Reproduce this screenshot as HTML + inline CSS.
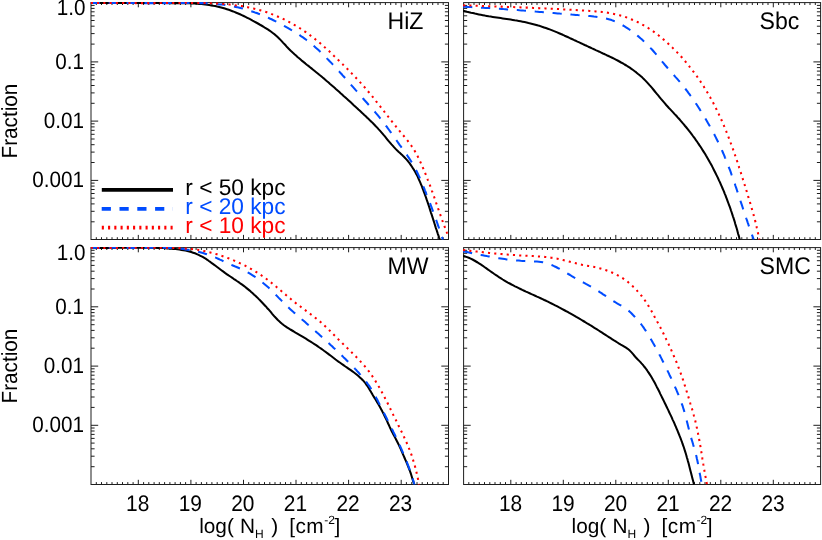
<!DOCTYPE html>
<html><head><meta charset="utf-8"><title>Column density fractions</title>
<style>
html,body{margin:0;padding:0;background:#fff;}
body{width:822px;height:540px;overflow:hidden;font-family:"Liberation Sans",sans-serif;}
svg{display:block;will-change:transform;text-rendering:geometricPrecision;}
</style></head><body>
<svg width="822" height="540" viewBox="0 0 822 540">
<rect width="822" height="540" fill="#fff"/>
<defs>
<clipPath id="cp_hiz"><rect x="90.5" y="2.1" width="358.5" height="237.9"/></clipPath>
<clipPath id="cp_sbc"><rect x="463.1" y="2.1" width="358" height="237.9"/></clipPath>
<clipPath id="cp_mw"><rect x="90.5" y="247.1" width="358.5" height="237.9"/></clipPath>
<clipPath id="cp_smc"><rect x="463.1" y="247.1" width="358" height="237.9"/></clipPath>
</defs>
<path d="M96.3 239.6 v-2.4 M96.3 2.6 v2.4 M101.5 239.6 v-2.4 M101.5 2.6 v2.4 M106.8 239.6 v-2.4 M106.8 2.6 v2.4 M112 239.6 v-2.4 M112 2.6 v2.4 M117.3 239.6 v-2.4 M117.3 2.6 v2.4 M122.5 239.6 v-2.4 M122.5 2.6 v2.4 M127.8 239.6 v-2.4 M127.8 2.6 v2.4 M133.1 239.6 v-2.4 M133.1 2.6 v2.4 M143.6 239.6 v-2.4 M143.6 2.6 v2.4 M148.8 239.6 v-2.4 M148.8 2.6 v2.4 M154.1 239.6 v-2.4 M154.1 2.6 v2.4 M159.3 239.6 v-2.4 M159.3 2.6 v2.4 M164.6 239.6 v-2.4 M164.6 2.6 v2.4 M169.9 239.6 v-2.4 M169.9 2.6 v2.4 M175.1 239.6 v-2.4 M175.1 2.6 v2.4 M180.4 239.6 v-2.4 M180.4 2.6 v2.4 M185.6 239.6 v-2.4 M185.6 2.6 v2.4 M196.1 239.6 v-2.4 M196.1 2.6 v2.4 M201.4 239.6 v-2.4 M201.4 2.6 v2.4 M206.7 239.6 v-2.4 M206.7 2.6 v2.4 M211.9 239.6 v-2.4 M211.9 2.6 v2.4 M217.2 239.6 v-2.4 M217.2 2.6 v2.4 M222.4 239.6 v-2.4 M222.4 2.6 v2.4 M227.7 239.6 v-2.4 M227.7 2.6 v2.4 M232.9 239.6 v-2.4 M232.9 2.6 v2.4 M238.2 239.6 v-2.4 M238.2 2.6 v2.4 M248.7 239.6 v-2.4 M248.7 2.6 v2.4 M254 239.6 v-2.4 M254 2.6 v2.4 M259.2 239.6 v-2.4 M259.2 2.6 v2.4 M264.5 239.6 v-2.4 M264.5 2.6 v2.4 M269.8 239.6 v-2.4 M269.8 2.6 v2.4 M275 239.6 v-2.4 M275 2.6 v2.4 M280.3 239.6 v-2.4 M280.3 2.6 v2.4 M285.5 239.6 v-2.4 M285.5 2.6 v2.4 M290.8 239.6 v-2.4 M290.8 2.6 v2.4 M301.3 239.6 v-2.4 M301.3 2.6 v2.4 M306.6 239.6 v-2.4 M306.6 2.6 v2.4 M311.8 239.6 v-2.4 M311.8 2.6 v2.4 M317.1 239.6 v-2.4 M317.1 2.6 v2.4 M322.3 239.6 v-2.4 M322.3 2.6 v2.4 M327.6 239.6 v-2.4 M327.6 2.6 v2.4 M332.8 239.6 v-2.4 M332.8 2.6 v2.4 M338.1 239.6 v-2.4 M338.1 2.6 v2.4 M343.4 239.6 v-2.4 M343.4 2.6 v2.4 M353.9 239.6 v-2.4 M353.9 2.6 v2.4 M359.1 239.6 v-2.4 M359.1 2.6 v2.4 M364.4 239.6 v-2.4 M364.4 2.6 v2.4 M369.6 239.6 v-2.4 M369.6 2.6 v2.4 M374.9 239.6 v-2.4 M374.9 2.6 v2.4 M380.2 239.6 v-2.4 M380.2 2.6 v2.4 M385.4 239.6 v-2.4 M385.4 2.6 v2.4 M390.7 239.6 v-2.4 M390.7 2.6 v2.4 M395.9 239.6 v-2.4 M395.9 2.6 v2.4 M406.4 239.6 v-2.4 M406.4 2.6 v2.4 M411.7 239.6 v-2.4 M411.7 2.6 v2.4 M417 239.6 v-2.4 M417 2.6 v2.4 M422.2 239.6 v-2.4 M422.2 2.6 v2.4 M427.5 239.6 v-2.4 M427.5 2.6 v2.4 M432.7 239.6 v-2.4 M432.7 2.6 v2.4 M438 239.6 v-2.4 M438 2.6 v2.4 M443.2 239.6 v-2.4 M443.2 2.6 v2.4 M91 44.1 h3.6 M448.5 44.1 h-3.6 M91 33.6 h3.6 M448.5 33.6 h-3.6 M91 26.2 h3.6 M448.5 26.2 h-3.6 M91 20.5 h3.6 M448.5 20.5 h-3.6 M91 15.8 h3.6 M448.5 15.8 h-3.6 M91 11.8 h3.6 M448.5 11.8 h-3.6 M91 8.4 h3.6 M448.5 8.4 h-3.6 M91 5.4 h3.6 M448.5 5.4 h-3.6 M91 103.3 h3.6 M448.5 103.3 h-3.6 M91 92.9 h3.6 M448.5 92.9 h-3.6 M91 85.5 h3.6 M448.5 85.5 h-3.6 M91 79.7 h3.6 M448.5 79.7 h-3.6 M91 75 h3.6 M448.5 75 h-3.6 M91 71.1 h3.6 M448.5 71.1 h-3.6 M91 67.6 h3.6 M448.5 67.6 h-3.6 M91 64.6 h3.6 M448.5 64.6 h-3.6 M91 162.5 h3.6 M448.5 162.5 h-3.6 M91 152.1 h3.6 M448.5 152.1 h-3.6 M91 144.7 h3.6 M448.5 144.7 h-3.6 M91 139 h3.6 M448.5 139 h-3.6 M91 134.3 h3.6 M448.5 134.3 h-3.6 M91 130.3 h3.6 M448.5 130.3 h-3.6 M91 126.9 h3.6 M448.5 126.9 h-3.6 M91 123.8 h3.6 M448.5 123.8 h-3.6 M91 221.8 h3.6 M448.5 221.8 h-3.6 M91 211.3 h3.6 M448.5 211.3 h-3.6 M91 203.9 h3.6 M448.5 203.9 h-3.6 M91 198.2 h3.6 M448.5 198.2 h-3.6 M91 193.5 h3.6 M448.5 193.5 h-3.6 M91 189.5 h3.6 M448.5 189.5 h-3.6 M91 186.1 h3.6 M448.5 186.1 h-3.6 M91 183.1 h3.6 M448.5 183.1 h-3.6" stroke="#1e1e1e" stroke-width="1.0" fill="none"/>
<path d="M138.3 239.6 v-4.7 M138.3 2.6 v4.7 M190.9 239.6 v-4.7 M190.9 2.6 v4.7 M243.5 239.6 v-4.7 M243.5 2.6 v4.7 M296 239.6 v-4.7 M296 2.6 v4.7 M348.6 239.6 v-4.7 M348.6 2.6 v4.7 M401.2 239.6 v-4.7 M401.2 2.6 v4.7 M91 61.9 h7.2 M448.5 61.9 h-7.2 M91 121.1 h7.2 M448.5 121.1 h-7.2 M91 180.4 h7.2 M448.5 180.4 h-7.2" stroke="#1e1e1e" stroke-width="1.0" fill="none"/>
<rect x="91" y="2.6" width="357.5" height="236.9" fill="none" stroke="#1e1e1e" stroke-width="1.0"/>
<path d="M468.8 239.6 v-2.4 M468.8 2.6 v2.4 M474 239.6 v-2.4 M474 2.6 v2.4 M479.3 239.6 v-2.4 M479.3 2.6 v2.4 M484.5 239.6 v-2.4 M484.5 2.6 v2.4 M489.8 239.6 v-2.4 M489.8 2.6 v2.4 M495 239.6 v-2.4 M495 2.6 v2.4 M500.3 239.6 v-2.4 M500.3 2.6 v2.4 M505.5 239.6 v-2.4 M505.5 2.6 v2.4 M516.1 239.6 v-2.4 M516.1 2.6 v2.4 M521.3 239.6 v-2.4 M521.3 2.6 v2.4 M526.5 239.6 v-2.4 M526.5 2.6 v2.4 M531.8 239.6 v-2.4 M531.8 2.6 v2.4 M537 239.6 v-2.4 M537 2.6 v2.4 M542.3 239.6 v-2.4 M542.3 2.6 v2.4 M547.5 239.6 v-2.4 M547.5 2.6 v2.4 M552.8 239.6 v-2.4 M552.8 2.6 v2.4 M558 239.6 v-2.4 M558 2.6 v2.4 M568.6 239.6 v-2.4 M568.6 2.6 v2.4 M573.8 239.6 v-2.4 M573.8 2.6 v2.4 M579 239.6 v-2.4 M579 2.6 v2.4 M584.3 239.6 v-2.4 M584.3 2.6 v2.4 M589.5 239.6 v-2.4 M589.5 2.6 v2.4 M594.8 239.6 v-2.4 M594.8 2.6 v2.4 M600 239.6 v-2.4 M600 2.6 v2.4 M605.3 239.6 v-2.4 M605.3 2.6 v2.4 M610.5 239.6 v-2.4 M610.5 2.6 v2.4 M621.1 239.6 v-2.4 M621.1 2.6 v2.4 M626.3 239.6 v-2.4 M626.3 2.6 v2.4 M631.5 239.6 v-2.4 M631.5 2.6 v2.4 M636.8 239.6 v-2.4 M636.8 2.6 v2.4 M642 239.6 v-2.4 M642 2.6 v2.4 M647.3 239.6 v-2.4 M647.3 2.6 v2.4 M652.5 239.6 v-2.4 M652.5 2.6 v2.4 M657.8 239.6 v-2.4 M657.8 2.6 v2.4 M663 239.6 v-2.4 M663 2.6 v2.4 M673.6 239.6 v-2.4 M673.6 2.6 v2.4 M678.8 239.6 v-2.4 M678.8 2.6 v2.4 M684 239.6 v-2.4 M684 2.6 v2.4 M689.3 239.6 v-2.4 M689.3 2.6 v2.4 M694.5 239.6 v-2.4 M694.5 2.6 v2.4 M699.8 239.6 v-2.4 M699.8 2.6 v2.4 M705 239.6 v-2.4 M705 2.6 v2.4 M710.3 239.6 v-2.4 M710.3 2.6 v2.4 M715.5 239.6 v-2.4 M715.5 2.6 v2.4 M726.1 239.6 v-2.4 M726.1 2.6 v2.4 M731.3 239.6 v-2.4 M731.3 2.6 v2.4 M736.5 239.6 v-2.4 M736.5 2.6 v2.4 M741.8 239.6 v-2.4 M741.8 2.6 v2.4 M747 239.6 v-2.4 M747 2.6 v2.4 M752.3 239.6 v-2.4 M752.3 2.6 v2.4 M757.5 239.6 v-2.4 M757.5 2.6 v2.4 M762.8 239.6 v-2.4 M762.8 2.6 v2.4 M768 239.6 v-2.4 M768 2.6 v2.4 M778.6 239.6 v-2.4 M778.6 2.6 v2.4 M783.8 239.6 v-2.4 M783.8 2.6 v2.4 M789.1 239.6 v-2.4 M789.1 2.6 v2.4 M794.3 239.6 v-2.4 M794.3 2.6 v2.4 M799.5 239.6 v-2.4 M799.5 2.6 v2.4 M804.8 239.6 v-2.4 M804.8 2.6 v2.4 M810 239.6 v-2.4 M810 2.6 v2.4 M815.3 239.6 v-2.4 M815.3 2.6 v2.4 M463.6 44.1 h3.6 M820.5 44.1 h-3.6 M463.6 33.6 h3.6 M820.5 33.6 h-3.6 M463.6 26.2 h3.6 M820.5 26.2 h-3.6 M463.6 20.5 h3.6 M820.5 20.5 h-3.6 M463.6 15.8 h3.6 M820.5 15.8 h-3.6 M463.6 11.8 h3.6 M820.5 11.8 h-3.6 M463.6 8.4 h3.6 M820.5 8.4 h-3.6 M463.6 5.4 h3.6 M820.5 5.4 h-3.6 M463.6 103.3 h3.6 M820.5 103.3 h-3.6 M463.6 92.9 h3.6 M820.5 92.9 h-3.6 M463.6 85.5 h3.6 M820.5 85.5 h-3.6 M463.6 79.7 h3.6 M820.5 79.7 h-3.6 M463.6 75 h3.6 M820.5 75 h-3.6 M463.6 71.1 h3.6 M820.5 71.1 h-3.6 M463.6 67.6 h3.6 M820.5 67.6 h-3.6 M463.6 64.6 h3.6 M820.5 64.6 h-3.6 M463.6 162.5 h3.6 M820.5 162.5 h-3.6 M463.6 152.1 h3.6 M820.5 152.1 h-3.6 M463.6 144.7 h3.6 M820.5 144.7 h-3.6 M463.6 139 h3.6 M820.5 139 h-3.6 M463.6 134.3 h3.6 M820.5 134.3 h-3.6 M463.6 130.3 h3.6 M820.5 130.3 h-3.6 M463.6 126.9 h3.6 M820.5 126.9 h-3.6 M463.6 123.8 h3.6 M820.5 123.8 h-3.6 M463.6 221.8 h3.6 M820.5 221.8 h-3.6 M463.6 211.3 h3.6 M820.5 211.3 h-3.6 M463.6 203.9 h3.6 M820.5 203.9 h-3.6 M463.6 198.2 h3.6 M820.5 198.2 h-3.6 M463.6 193.5 h3.6 M820.5 193.5 h-3.6 M463.6 189.5 h3.6 M820.5 189.5 h-3.6 M463.6 186.1 h3.6 M820.5 186.1 h-3.6 M463.6 183.1 h3.6 M820.5 183.1 h-3.6" stroke="#1e1e1e" stroke-width="1.0" fill="none"/>
<path d="M510.8 239.6 v-4.7 M510.8 2.6 v4.7 M563.3 239.6 v-4.7 M563.3 2.6 v4.7 M615.8 239.6 v-4.7 M615.8 2.6 v4.7 M668.3 239.6 v-4.7 M668.3 2.6 v4.7 M720.8 239.6 v-4.7 M720.8 2.6 v4.7 M773.3 239.6 v-4.7 M773.3 2.6 v4.7 M463.6 61.9 h7.1 M820.5 61.9 h-7.1 M463.6 121.1 h7.1 M820.5 121.1 h-7.1 M463.6 180.4 h7.1 M820.5 180.4 h-7.1" stroke="#1e1e1e" stroke-width="1.0" fill="none"/>
<rect x="463.6" y="2.6" width="357" height="236.9" fill="none" stroke="#1e1e1e" stroke-width="1.0"/>
<path d="M96.3 484.5 v-2.4 M96.3 247.6 v2.4 M101.5 484.5 v-2.4 M101.5 247.6 v2.4 M106.8 484.5 v-2.4 M106.8 247.6 v2.4 M112 484.5 v-2.4 M112 247.6 v2.4 M117.3 484.5 v-2.4 M117.3 247.6 v2.4 M122.5 484.5 v-2.4 M122.5 247.6 v2.4 M127.8 484.5 v-2.4 M127.8 247.6 v2.4 M133.1 484.5 v-2.4 M133.1 247.6 v2.4 M143.6 484.5 v-2.4 M143.6 247.6 v2.4 M148.8 484.5 v-2.4 M148.8 247.6 v2.4 M154.1 484.5 v-2.4 M154.1 247.6 v2.4 M159.3 484.5 v-2.4 M159.3 247.6 v2.4 M164.6 484.5 v-2.4 M164.6 247.6 v2.4 M169.9 484.5 v-2.4 M169.9 247.6 v2.4 M175.1 484.5 v-2.4 M175.1 247.6 v2.4 M180.4 484.5 v-2.4 M180.4 247.6 v2.4 M185.6 484.5 v-2.4 M185.6 247.6 v2.4 M196.1 484.5 v-2.4 M196.1 247.6 v2.4 M201.4 484.5 v-2.4 M201.4 247.6 v2.4 M206.7 484.5 v-2.4 M206.7 247.6 v2.4 M211.9 484.5 v-2.4 M211.9 247.6 v2.4 M217.2 484.5 v-2.4 M217.2 247.6 v2.4 M222.4 484.5 v-2.4 M222.4 247.6 v2.4 M227.7 484.5 v-2.4 M227.7 247.6 v2.4 M232.9 484.5 v-2.4 M232.9 247.6 v2.4 M238.2 484.5 v-2.4 M238.2 247.6 v2.4 M248.7 484.5 v-2.4 M248.7 247.6 v2.4 M254 484.5 v-2.4 M254 247.6 v2.4 M259.2 484.5 v-2.4 M259.2 247.6 v2.4 M264.5 484.5 v-2.4 M264.5 247.6 v2.4 M269.8 484.5 v-2.4 M269.8 247.6 v2.4 M275 484.5 v-2.4 M275 247.6 v2.4 M280.3 484.5 v-2.4 M280.3 247.6 v2.4 M285.5 484.5 v-2.4 M285.5 247.6 v2.4 M290.8 484.5 v-2.4 M290.8 247.6 v2.4 M301.3 484.5 v-2.4 M301.3 247.6 v2.4 M306.6 484.5 v-2.4 M306.6 247.6 v2.4 M311.8 484.5 v-2.4 M311.8 247.6 v2.4 M317.1 484.5 v-2.4 M317.1 247.6 v2.4 M322.3 484.5 v-2.4 M322.3 247.6 v2.4 M327.6 484.5 v-2.4 M327.6 247.6 v2.4 M332.8 484.5 v-2.4 M332.8 247.6 v2.4 M338.1 484.5 v-2.4 M338.1 247.6 v2.4 M343.4 484.5 v-2.4 M343.4 247.6 v2.4 M353.9 484.5 v-2.4 M353.9 247.6 v2.4 M359.1 484.5 v-2.4 M359.1 247.6 v2.4 M364.4 484.5 v-2.4 M364.4 247.6 v2.4 M369.6 484.5 v-2.4 M369.6 247.6 v2.4 M374.9 484.5 v-2.4 M374.9 247.6 v2.4 M380.2 484.5 v-2.4 M380.2 247.6 v2.4 M385.4 484.5 v-2.4 M385.4 247.6 v2.4 M390.7 484.5 v-2.4 M390.7 247.6 v2.4 M395.9 484.5 v-2.4 M395.9 247.6 v2.4 M406.4 484.5 v-2.4 M406.4 247.6 v2.4 M411.7 484.5 v-2.4 M411.7 247.6 v2.4 M417 484.5 v-2.4 M417 247.6 v2.4 M422.2 484.5 v-2.4 M422.2 247.6 v2.4 M427.5 484.5 v-2.4 M427.5 247.6 v2.4 M432.7 484.5 v-2.4 M432.7 247.6 v2.4 M438 484.5 v-2.4 M438 247.6 v2.4 M443.2 484.5 v-2.4 M443.2 247.6 v2.4 M91 289 h3.6 M448.5 289 h-3.6 M91 278.6 h3.6 M448.5 278.6 h-3.6 M91 271.2 h3.6 M448.5 271.2 h-3.6 M91 265.4 h3.6 M448.5 265.4 h-3.6 M91 260.7 h3.6 M448.5 260.7 h-3.6 M91 256.8 h3.6 M448.5 256.8 h-3.6 M91 253.3 h3.6 M448.5 253.3 h-3.6 M91 250.3 h3.6 M448.5 250.3 h-3.6 M91 348.2 h3.6 M448.5 348.2 h-3.6 M91 337.8 h3.6 M448.5 337.8 h-3.6 M91 330.4 h3.6 M448.5 330.4 h-3.6 M91 324.7 h3.6 M448.5 324.7 h-3.6 M91 320 h3.6 M448.5 320 h-3.6 M91 316 h3.6 M448.5 316 h-3.6 M91 312.6 h3.6 M448.5 312.6 h-3.6 M91 309.5 h3.6 M448.5 309.5 h-3.6 M91 407.4 h3.6 M448.5 407.4 h-3.6 M91 397 h3.6 M448.5 397 h-3.6 M91 389.6 h3.6 M448.5 389.6 h-3.6 M91 383.9 h3.6 M448.5 383.9 h-3.6 M91 379.2 h3.6 M448.5 379.2 h-3.6 M91 375.2 h3.6 M448.5 375.2 h-3.6 M91 371.8 h3.6 M448.5 371.8 h-3.6 M91 368.8 h3.6 M448.5 368.8 h-3.6 M91 466.7 h3.6 M448.5 466.7 h-3.6 M91 456.2 h3.6 M448.5 456.2 h-3.6 M91 448.8 h3.6 M448.5 448.8 h-3.6 M91 443.1 h3.6 M448.5 443.1 h-3.6 M91 438.4 h3.6 M448.5 438.4 h-3.6 M91 434.4 h3.6 M448.5 434.4 h-3.6 M91 431 h3.6 M448.5 431 h-3.6 M91 428 h3.6 M448.5 428 h-3.6" stroke="#1e1e1e" stroke-width="1.0" fill="none"/>
<path d="M138.3 484.5 v-4.7 M138.3 247.6 v4.7 M190.9 484.5 v-4.7 M190.9 247.6 v4.7 M243.5 484.5 v-4.7 M243.5 247.6 v4.7 M296 484.5 v-4.7 M296 247.6 v4.7 M348.6 484.5 v-4.7 M348.6 247.6 v4.7 M401.2 484.5 v-4.7 M401.2 247.6 v4.7 M91 306.8 h7.2 M448.5 306.8 h-7.2 M91 366.1 h7.2 M448.5 366.1 h-7.2 M91 425.3 h7.2 M448.5 425.3 h-7.2" stroke="#1e1e1e" stroke-width="1.0" fill="none"/>
<rect x="91" y="247.6" width="357.5" height="236.9" fill="none" stroke="#1e1e1e" stroke-width="1.0"/>
<path d="M468.8 484.5 v-2.4 M468.8 247.6 v2.4 M474 484.5 v-2.4 M474 247.6 v2.4 M479.3 484.5 v-2.4 M479.3 247.6 v2.4 M484.5 484.5 v-2.4 M484.5 247.6 v2.4 M489.8 484.5 v-2.4 M489.8 247.6 v2.4 M495 484.5 v-2.4 M495 247.6 v2.4 M500.3 484.5 v-2.4 M500.3 247.6 v2.4 M505.5 484.5 v-2.4 M505.5 247.6 v2.4 M516.1 484.5 v-2.4 M516.1 247.6 v2.4 M521.3 484.5 v-2.4 M521.3 247.6 v2.4 M526.5 484.5 v-2.4 M526.5 247.6 v2.4 M531.8 484.5 v-2.4 M531.8 247.6 v2.4 M537 484.5 v-2.4 M537 247.6 v2.4 M542.3 484.5 v-2.4 M542.3 247.6 v2.4 M547.5 484.5 v-2.4 M547.5 247.6 v2.4 M552.8 484.5 v-2.4 M552.8 247.6 v2.4 M558 484.5 v-2.4 M558 247.6 v2.4 M568.6 484.5 v-2.4 M568.6 247.6 v2.4 M573.8 484.5 v-2.4 M573.8 247.6 v2.4 M579 484.5 v-2.4 M579 247.6 v2.4 M584.3 484.5 v-2.4 M584.3 247.6 v2.4 M589.5 484.5 v-2.4 M589.5 247.6 v2.4 M594.8 484.5 v-2.4 M594.8 247.6 v2.4 M600 484.5 v-2.4 M600 247.6 v2.4 M605.3 484.5 v-2.4 M605.3 247.6 v2.4 M610.5 484.5 v-2.4 M610.5 247.6 v2.4 M621.1 484.5 v-2.4 M621.1 247.6 v2.4 M626.3 484.5 v-2.4 M626.3 247.6 v2.4 M631.5 484.5 v-2.4 M631.5 247.6 v2.4 M636.8 484.5 v-2.4 M636.8 247.6 v2.4 M642 484.5 v-2.4 M642 247.6 v2.4 M647.3 484.5 v-2.4 M647.3 247.6 v2.4 M652.5 484.5 v-2.4 M652.5 247.6 v2.4 M657.8 484.5 v-2.4 M657.8 247.6 v2.4 M663 484.5 v-2.4 M663 247.6 v2.4 M673.6 484.5 v-2.4 M673.6 247.6 v2.4 M678.8 484.5 v-2.4 M678.8 247.6 v2.4 M684 484.5 v-2.4 M684 247.6 v2.4 M689.3 484.5 v-2.4 M689.3 247.6 v2.4 M694.5 484.5 v-2.4 M694.5 247.6 v2.4 M699.8 484.5 v-2.4 M699.8 247.6 v2.4 M705 484.5 v-2.4 M705 247.6 v2.4 M710.3 484.5 v-2.4 M710.3 247.6 v2.4 M715.5 484.5 v-2.4 M715.5 247.6 v2.4 M726.1 484.5 v-2.4 M726.1 247.6 v2.4 M731.3 484.5 v-2.4 M731.3 247.6 v2.4 M736.5 484.5 v-2.4 M736.5 247.6 v2.4 M741.8 484.5 v-2.4 M741.8 247.6 v2.4 M747 484.5 v-2.4 M747 247.6 v2.4 M752.3 484.5 v-2.4 M752.3 247.6 v2.4 M757.5 484.5 v-2.4 M757.5 247.6 v2.4 M762.8 484.5 v-2.4 M762.8 247.6 v2.4 M768 484.5 v-2.4 M768 247.6 v2.4 M778.6 484.5 v-2.4 M778.6 247.6 v2.4 M783.8 484.5 v-2.4 M783.8 247.6 v2.4 M789.1 484.5 v-2.4 M789.1 247.6 v2.4 M794.3 484.5 v-2.4 M794.3 247.6 v2.4 M799.5 484.5 v-2.4 M799.5 247.6 v2.4 M804.8 484.5 v-2.4 M804.8 247.6 v2.4 M810 484.5 v-2.4 M810 247.6 v2.4 M815.3 484.5 v-2.4 M815.3 247.6 v2.4 M463.6 289 h3.6 M820.5 289 h-3.6 M463.6 278.6 h3.6 M820.5 278.6 h-3.6 M463.6 271.2 h3.6 M820.5 271.2 h-3.6 M463.6 265.4 h3.6 M820.5 265.4 h-3.6 M463.6 260.7 h3.6 M820.5 260.7 h-3.6 M463.6 256.8 h3.6 M820.5 256.8 h-3.6 M463.6 253.3 h3.6 M820.5 253.3 h-3.6 M463.6 250.3 h3.6 M820.5 250.3 h-3.6 M463.6 348.2 h3.6 M820.5 348.2 h-3.6 M463.6 337.8 h3.6 M820.5 337.8 h-3.6 M463.6 330.4 h3.6 M820.5 330.4 h-3.6 M463.6 324.7 h3.6 M820.5 324.7 h-3.6 M463.6 320 h3.6 M820.5 320 h-3.6 M463.6 316 h3.6 M820.5 316 h-3.6 M463.6 312.6 h3.6 M820.5 312.6 h-3.6 M463.6 309.5 h3.6 M820.5 309.5 h-3.6 M463.6 407.4 h3.6 M820.5 407.4 h-3.6 M463.6 397 h3.6 M820.5 397 h-3.6 M463.6 389.6 h3.6 M820.5 389.6 h-3.6 M463.6 383.9 h3.6 M820.5 383.9 h-3.6 M463.6 379.2 h3.6 M820.5 379.2 h-3.6 M463.6 375.2 h3.6 M820.5 375.2 h-3.6 M463.6 371.8 h3.6 M820.5 371.8 h-3.6 M463.6 368.8 h3.6 M820.5 368.8 h-3.6 M463.6 466.7 h3.6 M820.5 466.7 h-3.6 M463.6 456.2 h3.6 M820.5 456.2 h-3.6 M463.6 448.8 h3.6 M820.5 448.8 h-3.6 M463.6 443.1 h3.6 M820.5 443.1 h-3.6 M463.6 438.4 h3.6 M820.5 438.4 h-3.6 M463.6 434.4 h3.6 M820.5 434.4 h-3.6 M463.6 431 h3.6 M820.5 431 h-3.6 M463.6 428 h3.6 M820.5 428 h-3.6" stroke="#1e1e1e" stroke-width="1.0" fill="none"/>
<path d="M510.8 484.5 v-4.7 M510.8 247.6 v4.7 M563.3 484.5 v-4.7 M563.3 247.6 v4.7 M615.8 484.5 v-4.7 M615.8 247.6 v4.7 M668.3 484.5 v-4.7 M668.3 247.6 v4.7 M720.8 484.5 v-4.7 M720.8 247.6 v4.7 M773.3 484.5 v-4.7 M773.3 247.6 v4.7 M463.6 306.8 h7.1 M820.5 306.8 h-7.1 M463.6 366.1 h7.1 M820.5 366.1 h-7.1 M463.6 425.3 h7.1 M820.5 425.3 h-7.1" stroke="#1e1e1e" stroke-width="1.0" fill="none"/>
<rect x="463.6" y="247.6" width="357" height="236.9" fill="none" stroke="#1e1e1e" stroke-width="1.0"/>
<g clip-path="url(#cp_hiz)" fill="none" stroke-linejoin="round">
<path d="M90.8 3 L92.8 3 L94.8 3 L96.8 3 L98.9 3 L100.9 3 L102.9 3 L104.9 3 L106.9 3 L108.9 3 L110.9 3 L112.9 3 L115 3 L117 3 L119 3 L121 3 L123 3 L125 3 L127 3 L129 3 L131 3 L133 3 L135 3 L137 3 L139 3 L141 3 L143 3 L145 3 L147.1 3 L149.1 3 L151.1 3 L153.1 3 L155.1 3 L157.1 3 L159.1 3 L161.1 3 L163.1 3 L165.1 3 L167.2 3 L169.2 3 L171.2 3.1 L173.2 3.1 L175.2 3.1 L177.2 3.1 L179.3 3.1 L181.3 3.1 L183.3 3.2 L185.3 3.2 L187.3 3.3 L189.3 3.3 L191.4 3.4 L193.4 3.5 L195.4 3.6 L197.4 3.8 L199.4 3.9 L201.4 4.1 L203.4 4.3 L205.4 4.6 L207.3 4.8 L209.3 5.1 L211.3 5.4 L213.3 5.8 L215.2 6.1 L217.2 6.6 L219.1 7 L221.1 7.5 L223 8 L224.9 8.6 L226.9 9.2 L228.8 9.8 L230.7 10.5 L232.5 11.2 L234.4 11.9 L236.3 12.7 L238.2 13.5 L240 14.3 L241.8 15.1 L243.7 16 L245.5 16.9 L247.3 17.8 L249.1 18.7 L250.9 19.6 L252.6 20.6 L254.4 21.6 L256.1 22.5 L257.9 23.5 L259.6 24.5 L261.4 25.5 L263.1 26.5 L264.8 27.6 L266.5 28.6 L268.2 29.7 L269.9 30.8 L271.5 32 L273.1 33.2 L274.7 34.4 L276.2 35.8 L277.6 37.1 L279.1 38.5 L280.5 39.9 L281.9 41.4 L283.2 42.9 L284.6 44.3 L286 45.8 L287.3 47.3 L288.7 48.7 L290.2 50.2 L291.6 51.6 L293.1 52.9 L294.5 54.3 L296 55.6 L297.5 57 L299.1 58.3 L300.6 59.6 L302.1 60.9 L303.7 62.1 L305.3 63.4 L306.8 64.7 L308.4 65.9 L310 67.2 L311.5 68.4 L313.1 69.7 L314.7 71 L316.2 72.2 L317.8 73.5 L319.3 74.8 L320.9 76 L322.4 77.3 L324 78.6 L325.5 79.9 L327 81.2 L328.6 82.5 L330.1 83.9 L331.6 85.2 L333.1 86.5 L334.6 87.8 L336.1 89.2 L337.6 90.5 L339.1 91.8 L340.6 93.2 L342.1 94.5 L343.6 95.9 L345.1 97.2 L346.6 98.6 L348.1 99.9 L349.6 101.3 L351 102.6 L352.5 104 L354 105.4 L355.5 106.7 L356.9 108.1 L358.4 109.5 L359.9 110.8 L361.4 112.2 L362.8 113.6 L364.3 115 L365.8 116.3 L367.2 117.7 L368.7 119.1 L370.1 120.5 L371.6 121.9 L373 123.3 L374.4 124.7 L375.8 126.2 L377.2 127.6 L378.5 129.1 L379.9 130.6 L381.2 132.1 L382.5 133.6 L383.8 135.2 L385.1 136.7 L386.4 138.3 L387.6 139.8 L388.9 141.4 L390.2 142.9 L391.5 144.4 L392.9 145.9 L394.2 147.4 L395.6 148.9 L397 150.3 L398.5 151.7 L400 153 L401.5 154.4 L402.9 155.8 L404.4 157.2 L405.7 158.6 L407.1 160.1 L408.3 161.7 L409.5 163.2 L410.7 164.9 L411.8 166.5 L412.9 168.2 L414 169.9 L415 171.6 L415.9 173.4 L416.9 175.1 L417.8 176.9 L418.6 178.8 L419.4 180.6 L420.2 182.4 L421 184.3 L421.8 186.2 L422.5 188.1 L423.2 189.9 L423.9 191.8 L424.6 193.7 L425.3 195.6 L426 197.5 L426.6 199.4 L427.3 201.3 L427.9 203.2 L428.6 205.1 L429.2 207 L429.8 208.9 L430.4 210.9 L431 212.8 L431.7 214.7 L432.3 216.6 L432.9 218.5 L433.5 220.4 L434.1 222.3 L434.7 224.2 L435.3 226.1 L435.9 228.1 L436.6 230 L437.2 231.9 L437.8 233.8 L438.5 235.7 L439.1 237.6 L439.8 239.5" stroke="#000" stroke-width="2.05"/>
<path d="M90.7 3.1 L92.8 3 L94.8 3 L96.9 3 L98.9 3 L100.9 2.9 L102.9 2.9 L105 2.9 L107 2.9 L109 2.9 L111 2.9 L113 2.9 L115 2.9 L117 2.9 L119 2.9 L121.1 2.9 L123.1 2.9 L125.1 3 L127.1 3 L129.1 3 L131.1 3 L133.1 3 L135.1 3 L137.1 3 L139.1 3.1 L141.1 3.1 L143.1 3.1 L145.1 3.1 L147.1 3.1 L149.1 3.1 L151.1 3.1 L153.1 3.1 L155.1 3.1 L157.1 3.1 L159.2 3.1 L161.2 3.1 L163.2 3.1 L165.2 3.1 L167.2 3.1 L169.2 3.1 L171.3 3 L173.3 3 L175.3 3 L177.3 3 L179.4 3 L181.4 2.9 L183.4 2.9 L185.4 2.9 L187.5 2.9 L189.5 2.9 L191.5 2.9 L193.6 3 L195.6 3 L197.6 3 L199.6 3.1 L201.6 3.1 L203.7 3.2 L205.7 3.3 L207.7 3.4 L209.7 3.5 L211.7 3.6 L213.7 3.8 L215.7 4 L217.7 4.2 L219.7 4.4 L221.7 4.6 L223.7 4.8 L225.7 5.1 L227.7 5.4 L229.6 5.7 L231.6 6.1 L233.6 6.5 L235.5 6.9 L237.5 7.3 L239.4 7.7 L241.4 8.2 L243.3 8.7 L245.2 9.3 L247.2 9.8 L249.1 10.4 L251 11.1 L252.9 11.7 L254.8 12.4 L256.7 13 L258.6 13.8 L260.4 14.5 L262.3 15.2 L264.2 16 L266 16.8 L267.9 17.6 L269.7 18.5 L271.5 19.3 L273.4 20.2 L275.2 21.1 L277 22 L278.8 22.9 L280.6 23.9 L282.4 24.8 L284.1 25.8 L285.9 26.8 L287.7 27.8 L289.4 28.8 L291.1 29.8 L292.9 30.8 L294.6 31.9 L296.3 33 L298 34 L299.7 35.2 L301.3 36.3 L303 37.4 L304.6 38.6 L306.2 39.8 L307.8 41 L309.4 42.2 L310.9 43.5 L312.5 44.8 L314 46.1 L315.5 47.4 L317 48.7 L318.5 50.1 L320 51.5 L321.4 52.9 L322.8 54.3 L324.3 55.7 L325.7 57.1 L327.1 58.6 L328.5 60 L329.9 61.5 L331.3 62.9 L332.7 64.4 L334 65.9 L335.4 67.4 L336.8 68.8 L338.1 70.3 L339.5 71.8 L340.8 73.3 L342.2 74.8 L343.5 76.3 L344.9 77.8 L346.2 79.3 L347.6 80.8 L348.9 82.3 L350.2 83.8 L351.5 85.3 L352.9 86.9 L354.2 88.4 L355.5 89.9 L356.9 91.4 L358.2 92.9 L359.5 94.4 L360.8 95.9 L362.2 97.5 L363.5 99 L364.8 100.5 L366.2 102 L367.5 103.5 L368.8 105 L370.2 106.5 L371.5 108 L372.8 109.5 L374.2 111.1 L375.5 112.6 L376.8 114.1 L378.1 115.7 L379.3 117.2 L380.6 118.8 L381.9 120.3 L383.1 121.9 L384.3 123.5 L385.5 125.1 L386.7 126.7 L387.9 128.4 L389.1 130 L390.3 131.6 L391.4 133.3 L392.6 134.9 L393.8 136.6 L394.9 138.2 L396.1 139.8 L397.3 141.5 L398.4 143.1 L399.6 144.8 L400.8 146.4 L402 148 L403.2 149.7 L404.3 151.3 L405.5 153 L406.7 154.6 L407.8 156.3 L408.9 157.9 L410 159.6 L411.1 161.3 L412.1 163 L413.1 164.8 L414.1 166.5 L415.1 168.3 L416 170 L416.9 171.8 L417.8 173.7 L418.6 175.5 L419.5 177.3 L420.3 179.1 L421.1 181 L421.9 182.8 L422.6 184.7 L423.4 186.6 L424.2 188.4 L424.9 190.3 L425.7 192.2 L426.4 194.1 L427.2 195.9 L427.9 197.8 L428.6 199.7 L429.3 201.6 L430.1 203.4 L430.8 205.3 L431.5 207.2 L432.2 209.1 L432.9 211 L433.6 212.9 L434.3 214.8 L434.9 216.7 L435.6 218.6 L436.3 220.4 L437 222.3 L437.6 224.2 L438.3 226.1 L439 228 L439.6 229.9 L440.3 231.9 L440.9 233.8 L441.6 235.7 L442.2 237.6 L442.9 239.5" stroke="#004cff" stroke-width="2.05" stroke-dasharray="9.2 8.74"/>
<path d="M90.8 3 L92.8 3 L94.8 3 L96.8 3 L98.8 3 L100.9 2.9 L102.9 2.9 L104.9 2.9 L106.9 2.9 L108.9 2.9 L110.9 2.9 L112.9 2.9 L114.9 2.9 L116.9 3 L119 3 L121 3 L123 3 L125 3 L127 3 L129 3 L131 3 L133.1 3 L135.1 3.1 L137.1 3.1 L139.1 3.1 L141.1 3.1 L143.1 3.1 L145.1 3.1 L147.1 3.1 L149.2 3.1 L151.2 3.1 L153.2 3.1 L155.2 3.1 L157.2 3.1 L159.2 3.1 L161.2 3 L163.2 3 L165.2 3 L167.3 3 L169.3 3 L171.3 2.9 L173.3 2.9 L175.3 2.9 L177.3 2.9 L179.3 2.9 L181.3 2.9 L183.3 2.9 L185.3 2.8 L187.4 2.8 L189.4 2.8 L191.4 2.9 L193.4 2.9 L195.4 2.9 L197.4 2.9 L199.4 2.9 L201.4 3 L203.4 3 L205.5 3.1 L207.5 3.1 L209.5 3.2 L211.5 3.3 L213.5 3.4 L215.5 3.5 L217.5 3.6 L219.5 3.7 L221.6 3.9 L223.6 4 L225.6 4.2 L227.6 4.4 L229.6 4.6 L231.6 4.8 L233.6 5 L235.6 5.3 L237.6 5.5 L239.6 5.8 L241.6 6.1 L243.5 6.4 L245.5 6.8 L247.5 7.2 L249.5 7.6 L251.4 8 L253.4 8.4 L255.3 8.9 L257.3 9.4 L259.2 9.9 L261.1 10.5 L263.1 11.1 L265 11.7 L266.9 12.3 L268.8 13 L270.7 13.6 L272.5 14.4 L274.4 15.1 L276.3 15.9 L278.1 16.7 L280 17.5 L281.8 18.3 L283.6 19.2 L285.4 20.1 L287.2 21 L289 21.9 L290.8 22.9 L292.5 23.9 L294.3 24.9 L296 25.9 L297.8 26.9 L299.5 28 L301.2 29.1 L302.9 30.2 L304.6 31.3 L306.2 32.4 L307.9 33.6 L309.5 34.8 L311.1 36 L312.7 37.2 L314.3 38.4 L315.9 39.7 L317.4 40.9 L319 42.2 L320.5 43.5 L322 44.8 L323.5 46.1 L325 47.5 L326.5 48.8 L328 50.2 L329.5 51.5 L330.9 52.9 L332.4 54.3 L333.8 55.7 L335.3 57.1 L336.7 58.5 L338.2 59.9 L339.6 61.3 L341 62.7 L342.5 64.1 L343.9 65.6 L345.3 67 L346.8 68.4 L348.2 69.8 L349.6 71.3 L351 72.7 L352.4 74.1 L353.8 75.6 L355.2 77 L356.6 78.5 L358 80 L359.4 81.4 L360.7 82.9 L362.1 84.4 L363.4 85.9 L364.7 87.4 L366 89 L367.3 90.5 L368.6 92 L369.9 93.6 L371.2 95.1 L372.5 96.7 L373.7 98.2 L375 99.8 L376.2 101.4 L377.5 103 L378.7 104.5 L380 106.1 L381.2 107.7 L382.4 109.3 L383.7 110.9 L384.9 112.5 L386.1 114.1 L387.4 115.6 L388.6 117.2 L389.9 118.8 L391.1 120.4 L392.3 122 L393.6 123.6 L394.9 125.1 L396.1 126.7 L397.4 128.3 L398.7 129.8 L399.9 131.4 L401.2 132.9 L402.5 134.5 L403.8 136 L405.1 137.6 L406.4 139.1 L407.6 140.7 L408.8 142.3 L410 143.9 L411.2 145.5 L412.4 147.2 L413.5 148.8 L414.5 150.5 L415.5 152.3 L416.5 154 L417.4 155.8 L418.3 157.6 L419.2 159.4 L420 161.2 L420.9 163.1 L421.7 164.9 L422.5 166.8 L423.3 168.6 L424.1 170.5 L424.8 172.3 L425.6 174.2 L426.4 176.1 L427.1 177.9 L427.8 179.8 L428.6 181.7 L429.3 183.6 L430 185.4 L430.7 187.3 L431.4 189.2 L432 191.1 L432.7 193 L433.4 194.9 L434.1 196.8 L434.7 198.7 L435.4 200.6 L436 202.5 L436.7 204.4 L437.3 206.3 L438 208.2 L438.7 210.1 L439.3 212 L440 213.9 L440.7 215.8 L441.3 217.7 L442 219.6 L442.7 221.5 L443.4 223.4 L444.1 225.3 L444.8 227.1 L445.5 229 L446.3 230.9 L447 232.8 L447.8 234.6 L448.6 236.5" stroke="#ff0000" stroke-width="2.05" stroke-dasharray="2.1 4.163"/>
</g>
<g clip-path="url(#cp_sbc)" fill="none" stroke-linejoin="round">
<path d="M463.1 10.8 L465.1 11.3 L467 11.8 L469 12.2 L471 12.7 L472.9 13.1 L474.9 13.6 L476.9 14 L478.8 14.4 L480.8 14.8 L482.8 15.2 L484.8 15.6 L486.7 15.9 L488.7 16.3 L490.7 16.6 L492.7 16.9 L494.7 17.2 L496.7 17.5 L498.7 17.8 L500.7 18.1 L502.7 18.4 L504.7 18.7 L506.7 19 L508.7 19.3 L510.7 19.6 L512.7 19.9 L514.7 20.3 L516.7 20.6 L518.7 20.9 L520.7 21.3 L522.6 21.7 L524.6 22.1 L526.6 22.5 L528.5 23 L530.5 23.4 L532.4 23.9 L534.4 24.4 L536.3 25 L538.3 25.6 L540.2 26.1 L542.1 26.8 L544 27.4 L545.9 28 L547.8 28.7 L549.7 29.4 L551.6 30.1 L553.5 30.9 L555.3 31.6 L557.2 32.4 L559.1 33.2 L560.9 34 L562.8 34.8 L564.6 35.7 L566.4 36.5 L568.3 37.3 L570.1 38.2 L571.9 39 L573.8 39.9 L575.6 40.7 L577.4 41.6 L579.3 42.4 L581.1 43.3 L582.9 44.1 L584.7 45 L586.6 45.8 L588.4 46.7 L590.2 47.5 L592.1 48.4 L593.9 49.2 L595.7 50.1 L597.5 50.9 L599.4 51.7 L601.2 52.6 L603 53.5 L604.9 54.3 L606.7 55.2 L608.5 56 L610.3 56.9 L612.2 57.8 L614 58.7 L615.8 59.6 L617.6 60.5 L619.4 61.5 L621.1 62.5 L622.9 63.4 L624.6 64.5 L626.4 65.5 L628.1 66.6 L629.8 67.7 L631.4 68.8 L633.1 70 L634.7 71.2 L636.3 72.4 L637.8 73.7 L639.4 75 L640.9 76.3 L642.4 77.6 L643.8 79 L645.2 80.4 L646.6 81.9 L648 83.4 L649.3 84.9 L650.7 86.4 L652 87.9 L653.3 89.5 L654.5 91 L655.8 92.6 L657.1 94.2 L658.4 95.7 L659.7 97.3 L661 98.9 L662.3 100.4 L663.6 101.9 L664.9 103.4 L666.2 105 L667.6 106.5 L668.9 108 L670.3 109.4 L671.7 110.9 L673.1 112.4 L674.4 113.9 L675.8 115.3 L677.2 116.8 L678.5 118.3 L679.9 119.8 L681.2 121.3 L682.5 122.9 L683.8 124.4 L685.1 126 L686.4 127.5 L687.7 129.1 L688.9 130.7 L690.1 132.2 L691.4 133.8 L692.6 135.5 L693.8 137.1 L695 138.7 L696.1 140.4 L697.3 142 L698.4 143.7 L699.5 145.3 L700.7 147 L701.8 148.7 L702.8 150.4 L703.9 152.1 L705 153.8 L706 155.6 L707 157.3 L708 159 L709 160.8 L710 162.6 L711 164.3 L712 166.1 L712.9 167.9 L713.8 169.7 L714.7 171.5 L715.6 173.3 L716.5 175.1 L717.4 176.9 L718.3 178.8 L719.1 180.6 L720 182.4 L720.8 184.3 L721.6 186.1 L722.4 188 L723.2 189.8 L724 191.7 L724.7 193.6 L725.5 195.4 L726.2 197.3 L726.9 199.2 L727.6 201.1 L728.3 203 L729 204.8 L729.7 206.7 L730.4 208.6 L731 210.5 L731.7 212.5 L732.3 214.4 L732.9 216.3 L733.6 218.2 L734.2 220.1 L734.8 222 L735.3 224 L735.9 225.9 L736.5 227.8 L737.1 229.8 L737.6 231.7 L738.1 233.7 L738.7 235.6 L739.2 237.6 L739.7 239.5" stroke="#000" stroke-width="2.05"/>
<path d="M463.1 6.7 L465.1 6.8 L467.1 6.9 L469.1 7 L471.2 7.1 L473.2 7.2 L475.2 7.3 L477.2 7.4 L479.2 7.5 L481.2 7.7 L483.3 7.8 L485.3 7.9 L487.3 8 L489.3 8.1 L491.3 8.3 L493.3 8.4 L495.3 8.5 L497.4 8.7 L499.4 8.8 L501.4 8.9 L503.4 9.1 L505.4 9.2 L507.4 9.4 L509.4 9.5 L511.4 9.7 L513.4 9.8 L515.5 10 L517.5 10.1 L519.5 10.3 L521.5 10.4 L523.5 10.6 L525.5 10.7 L527.5 10.9 L529.5 11.1 L531.5 11.2 L533.6 11.4 L535.6 11.6 L537.6 11.7 L539.6 11.9 L541.6 12 L543.6 12.2 L545.6 12.4 L547.6 12.5 L549.6 12.7 L551.7 12.9 L553.7 13 L555.7 13.2 L557.7 13.4 L559.7 13.6 L561.7 13.7 L563.7 13.9 L565.7 14.1 L567.7 14.2 L569.8 14.4 L571.8 14.6 L573.8 14.7 L575.8 14.9 L577.8 15.1 L579.8 15.2 L581.8 15.4 L583.9 15.6 L585.9 15.7 L587.9 15.9 L589.9 16.1 L591.9 16.3 L593.9 16.6 L595.9 16.8 L597.9 17.1 L599.9 17.3 L601.9 17.7 L603.9 18 L605.8 18.4 L607.8 18.9 L609.7 19.5 L611.6 20.1 L613.4 20.8 L615.3 21.6 L617.1 22.4 L618.9 23.3 L620.7 24.2 L622.5 25.2 L624.2 26.2 L626 27.3 L627.7 28.4 L629.4 29.5 L631 30.7 L632.7 31.9 L634.3 33.1 L635.9 34.4 L637.4 35.6 L639 36.9 L640.5 38.3 L642 39.6 L643.5 41 L645 42.3 L646.4 43.7 L647.8 45.2 L649.3 46.6 L650.6 48.1 L652 49.5 L653.3 51 L654.7 52.6 L656 54.1 L657.3 55.6 L658.6 57.2 L659.8 58.7 L661.1 60.3 L662.4 61.9 L663.7 63.4 L665 65 L666.3 66.5 L667.6 68 L669 69.5 L670.3 71.1 L671.6 72.6 L673 74.1 L674.3 75.6 L675.6 77.1 L677 78.6 L678.3 80.2 L679.6 81.7 L680.9 83.3 L682.2 84.8 L683.5 86.4 L684.7 88 L685.9 89.5 L687.2 91.1 L688.4 92.8 L689.6 94.4 L690.7 96 L691.9 97.7 L693.1 99.3 L694.2 101 L695.3 102.6 L696.5 104.3 L697.6 106 L698.7 107.7 L699.8 109.4 L700.8 111.1 L701.9 112.8 L703 114.5 L704 116.2 L705.1 118 L706.1 119.7 L707.1 121.4 L708.1 123.2 L709.1 124.9 L710.1 126.7 L711.1 128.5 L712.1 130.3 L713 132 L714 133.8 L714.9 135.6 L715.8 137.4 L716.7 139.2 L717.6 141 L718.5 142.8 L719.4 144.7 L720.2 146.5 L721 148.3 L721.9 150.2 L722.7 152 L723.5 153.9 L724.3 155.7 L725 157.6 L725.8 159.4 L726.6 161.3 L727.3 163.2 L728 165.1 L728.7 167 L729.5 168.8 L730.2 170.7 L730.9 172.6 L731.5 174.5 L732.2 176.4 L732.9 178.3 L733.6 180.2 L734.2 182.1 L734.9 184 L735.5 186 L736.2 187.9 L736.8 189.8 L737.4 191.7 L738.1 193.6 L738.7 195.5 L739.3 197.4 L740 199.4 L740.6 201.3 L741.2 203.2 L741.9 205.1 L742.5 207 L743.1 208.9 L743.8 210.9 L744.4 212.8 L745 214.7 L745.7 216.6 L746.3 218.5 L747 220.4 L747.6 222.3 L748.3 224.2 L748.9 226.2 L749.6 228.1 L750.2 230 L750.9 231.9 L751.6 233.8 L752.3 235.7 L753 237.6 L753.7 239.4" stroke="#004cff" stroke-width="2.05" stroke-dasharray="9.2 8.74"/>
<path d="M463.1 5.3 L465.1 5.4 L467.1 5.5 L469.1 5.5 L471.1 5.6 L473.2 5.7 L475.2 5.7 L477.2 5.8 L479.2 5.9 L481.2 5.9 L483.2 6 L485.2 6.1 L487.3 6.2 L489.3 6.2 L491.3 6.3 L493.3 6.4 L495.3 6.4 L497.3 6.5 L499.3 6.6 L501.4 6.6 L503.4 6.7 L505.4 6.8 L507.4 6.9 L509.4 6.9 L511.4 7 L513.4 7.1 L515.5 7.2 L517.5 7.2 L519.5 7.3 L521.5 7.4 L523.5 7.5 L525.5 7.6 L527.5 7.6 L529.5 7.7 L531.6 7.8 L533.6 7.9 L535.6 8 L537.6 8.1 L539.6 8.2 L541.6 8.3 L543.6 8.3 L545.6 8.4 L547.6 8.5 L549.7 8.6 L551.7 8.7 L553.7 8.8 L555.7 8.9 L557.7 9 L559.7 9.1 L561.7 9.2 L563.7 9.4 L565.7 9.5 L567.8 9.6 L569.8 9.7 L571.8 9.8 L573.8 9.9 L575.8 10 L577.8 10.2 L579.8 10.3 L581.8 10.4 L583.9 10.5 L585.9 10.7 L587.9 10.8 L589.9 10.9 L591.9 11.1 L593.9 11.2 L596 11.4 L598 11.6 L600 11.7 L602 12 L604 12.2 L606 12.5 L608 12.8 L609.9 13.1 L611.9 13.5 L613.9 13.9 L615.8 14.3 L617.8 14.8 L619.7 15.3 L621.7 15.8 L623.6 16.4 L625.5 17.1 L627.4 17.7 L629.3 18.5 L631.1 19.2 L633 20 L634.8 20.8 L636.7 21.6 L638.5 22.5 L640.2 23.4 L642 24.4 L643.8 25.4 L645.5 26.4 L647.2 27.4 L648.9 28.5 L650.6 29.6 L652.3 30.8 L653.9 31.9 L655.5 33.1 L657.1 34.3 L658.7 35.5 L660.3 36.8 L661.9 38.1 L663.4 39.4 L665 40.7 L666.5 42 L668 43.4 L669.5 44.8 L670.9 46.2 L672.4 47.6 L673.8 49 L675.3 50.4 L676.7 51.9 L678.1 53.3 L679.4 54.8 L680.8 56.3 L682.2 57.8 L683.5 59.3 L684.8 60.9 L686.1 62.4 L687.4 63.9 L688.7 65.5 L689.9 67.1 L691.2 68.7 L692.4 70.3 L693.6 71.9 L694.8 73.5 L696 75.1 L697.2 76.7 L698.3 78.4 L699.5 80 L700.6 81.7 L701.7 83.4 L702.8 85.1 L703.9 86.8 L704.9 88.5 L706 90.2 L707 91.9 L708.1 93.6 L709.1 95.4 L710.1 97.1 L711 98.9 L712 100.6 L713 102.4 L713.9 104.2 L714.8 106 L715.7 107.8 L716.6 109.6 L717.5 111.4 L718.4 113.2 L719.2 115 L720.1 116.9 L720.9 118.7 L721.7 120.5 L722.5 122.4 L723.3 124.2 L724.1 126.1 L724.9 128 L725.7 129.8 L726.4 131.7 L727.2 133.6 L727.9 135.5 L728.6 137.3 L729.3 139.2 L730 141.1 L730.7 143 L731.4 144.9 L732.1 146.8 L732.8 148.7 L733.5 150.6 L734.1 152.5 L734.8 154.4 L735.4 156.3 L736.1 158.2 L736.7 160.1 L737.4 162 L738 163.9 L738.6 165.9 L739.2 167.8 L739.9 169.7 L740.5 171.6 L741.1 173.5 L741.7 175.4 L742.3 177.4 L742.9 179.3 L743.5 181.2 L744.1 183.1 L744.7 185 L745.3 187 L745.9 188.9 L746.5 190.8 L747.1 192.7 L747.6 194.7 L748.2 196.6 L748.8 198.5 L749.4 200.5 L750 202.4 L750.6 204.3 L751.1 206.2 L751.7 208.2 L752.2 210.1 L752.8 212.1 L753.3 214 L753.9 215.9 L754.4 217.9 L754.9 219.8 L755.4 221.8 L755.9 223.8 L756.4 225.7 L756.8 227.7 L757.3 229.6 L757.7 231.6 L758.1 233.6 L758.5 235.5 L758.9 237.5 L759.3 239.5" stroke="#ff0000" stroke-width="2.05" stroke-dasharray="2.1 4.163"/>
</g>
<g clip-path="url(#cp_mw)" fill="none" stroke-linejoin="round">
<path d="M90.8 247.7 L92.8 247.8 L94.8 247.8 L96.9 247.9 L98.9 247.9 L100.9 247.9 L102.9 247.9 L104.9 247.9 L107 247.9 L109 247.9 L111 247.9 L113 247.9 L115 247.9 L117 247.9 L119 247.8 L121 247.8 L123 247.8 L125 247.8 L127 247.7 L129.1 247.7 L131.1 247.7 L133.1 247.7 L135.1 247.7 L137.1 247.6 L139.1 247.6 L141.1 247.6 L143.1 247.6 L145.1 247.6 L147.1 247.7 L149.1 247.7 L151.1 247.7 L153.2 247.8 L155.2 247.8 L157.2 247.9 L159.2 248 L161.2 248 L163.2 248.1 L165.3 248.3 L167.3 248.4 L169.3 248.5 L171.3 248.7 L173.4 248.9 L175.4 249.1 L177.4 249.3 L179.4 249.6 L181.4 249.9 L183.4 250.2 L185.4 250.6 L187.3 251 L189.3 251.5 L191.2 252.1 L193.1 252.7 L195 253.3 L196.8 254.1 L198.6 254.9 L200.4 255.8 L202.2 256.7 L203.9 257.7 L205.6 258.7 L207.3 259.8 L208.9 261 L210.6 262.2 L212.2 263.4 L213.9 264.6 L215.5 265.8 L217.1 267 L218.8 268.3 L220.4 269.5 L222 270.7 L223.7 271.9 L225.3 273.1 L227 274.3 L228.6 275.4 L230.3 276.5 L232 277.6 L233.6 278.8 L235.3 279.9 L236.9 281 L238.6 282.1 L240.2 283.3 L241.8 284.4 L243.5 285.6 L245 286.8 L246.6 288.1 L248.2 289.4 L249.7 290.6 L251.2 292 L252.7 293.3 L254.2 294.7 L255.7 296 L257.2 297.4 L258.6 298.9 L260 300.3 L261.4 301.7 L262.8 303.2 L264.2 304.7 L265.6 306.2 L266.9 307.7 L268.3 309.2 L269.6 310.7 L270.9 312.2 L272.2 313.8 L273.5 315.3 L274.8 316.8 L276.2 318.2 L277.6 319.7 L279 321.1 L280.5 322.4 L282 323.7 L283.6 325 L285.2 326.2 L286.9 327.3 L288.6 328.4 L290.3 329.5 L292.1 330.5 L293.8 331.5 L295.5 332.6 L297.3 333.6 L299 334.6 L300.7 335.6 L302.5 336.7 L304.2 337.7 L305.9 338.7 L307.6 339.8 L309.3 340.9 L311 341.9 L312.7 343 L314.4 344.1 L316.1 345.2 L317.8 346.4 L319.4 347.5 L321.1 348.6 L322.7 349.8 L324.3 351 L326 352.2 L327.6 353.4 L329.2 354.6 L330.8 355.8 L332.4 357 L334 358.2 L335.6 359.5 L337.2 360.7 L338.8 361.9 L340.5 363 L342.1 364.2 L343.8 365.4 L345.4 366.5 L347.1 367.6 L348.8 368.8 L350.4 369.9 L352.1 371.1 L353.7 372.3 L355.3 373.5 L356.9 374.8 L358.4 376.1 L359.9 377.4 L361.4 378.8 L362.8 380.2 L364.1 381.7 L365.4 383.2 L366.5 384.8 L367.7 386.5 L368.8 388.2 L369.8 389.9 L370.9 391.7 L371.9 393.4 L372.9 395.2 L373.9 396.9 L375 398.6 L376 400.3 L377.1 402.1 L378.1 403.8 L379.1 405.5 L380.1 407.3 L381 409 L382 410.8 L382.9 412.6 L383.8 414.4 L384.7 416.2 L385.6 418 L386.5 419.8 L387.3 421.7 L388.1 423.5 L389 425.3 L389.8 427.2 L390.7 429 L391.5 430.8 L392.4 432.6 L393.4 434.4 L394.3 436.1 L395.3 437.9 L396.2 439.7 L397.1 441.5 L398 443.3 L398.9 445.1 L399.7 446.9 L400.6 448.7 L401.4 450.6 L402.2 452.4 L403 454.3 L403.8 456.1 L404.6 458 L405.4 459.8 L406.2 461.7 L407 463.5 L407.7 465.4 L408.5 467.3 L409.2 469.2 L409.9 471 L410.6 472.9 L411.2 474.8 L411.8 476.8 L412.4 478.7 L413 480.6 L413.6 482.5 L414.1 484.5" stroke="#000" stroke-width="2.05"/>
<path d="M90.8 247.8 L92.8 247.8 L94.8 247.7 L96.8 247.7 L98.9 247.7 L100.9 247.7 L102.9 247.7 L104.9 247.7 L106.9 247.7 L108.9 247.7 L110.9 247.8 L113 247.8 L115 247.8 L117 247.9 L119 247.9 L121 247.9 L123 247.9 L125 247.9 L127 247.9 L129.1 247.9 L131.1 247.9 L133.1 247.9 L135.1 247.9 L137.1 247.9 L139.1 247.8 L141.1 247.8 L143.2 247.8 L145.2 247.7 L147.2 247.7 L149.2 247.7 L151.2 247.6 L153.2 247.6 L155.2 247.6 L157.3 247.6 L159.3 247.6 L161.3 247.6 L163.3 247.6 L165.3 247.7 L167.3 247.8 L169.3 247.9 L171.3 248 L173.4 248.1 L175.4 248.2 L177.4 248.4 L179.4 248.6 L181.4 248.8 L183.4 249.1 L185.4 249.4 L187.4 249.7 L189.3 250 L191.3 250.4 L193.3 250.7 L195.3 251.2 L197.2 251.6 L199.2 252.1 L201.1 252.6 L203 253.1 L205 253.7 L206.9 254.3 L208.8 255 L210.7 255.7 L212.5 256.4 L214.4 257.1 L216.3 257.9 L218.1 258.7 L220 259.6 L221.8 260.4 L223.6 261.3 L225.4 262.2 L227.3 263 L229.1 263.9 L231 264.7 L232.8 265.5 L234.7 266.3 L236.5 267 L238.3 267.8 L240.2 268.6 L242 269.5 L243.8 270.4 L245.6 271.3 L247.4 272.2 L249.1 273.2 L250.8 274.2 L252.6 275.3 L254.3 276.4 L255.9 277.5 L257.6 278.7 L259.2 279.9 L260.8 281.1 L262.4 282.4 L264 283.7 L265.5 285 L267 286.3 L268.5 287.6 L270 289 L271.4 290.4 L272.8 291.8 L274.3 293.3 L275.7 294.7 L277.1 296.1 L278.5 297.6 L279.9 299 L281.3 300.4 L282.7 301.9 L284.1 303.3 L285.6 304.7 L287 306.1 L288.5 307.5 L290 308.9 L291.4 310.2 L292.9 311.6 L294.4 312.9 L296 314.2 L297.5 315.6 L299 316.9 L300.5 318.2 L302 319.5 L303.6 320.8 L305.1 322.1 L306.6 323.4 L308.1 324.8 L309.7 326.1 L311.2 327.4 L312.7 328.7 L314.2 330.1 L315.7 331.4 L317.2 332.8 L318.7 334.1 L320.2 335.4 L321.7 336.8 L323.2 338.1 L324.7 339.5 L326.1 340.9 L327.6 342.2 L329.1 343.6 L330.6 345 L332.1 346.3 L333.5 347.7 L335 349.1 L336.5 350.5 L337.9 351.9 L339.4 353.2 L340.8 354.6 L342.3 356 L343.7 357.4 L345.2 358.8 L346.6 360.2 L348.1 361.7 L349.5 363.1 L350.9 364.5 L352.3 366 L353.7 367.4 L355.1 368.9 L356.5 370.3 L357.8 371.8 L359.2 373.3 L360.5 374.8 L361.8 376.4 L363.1 377.9 L364.4 379.5 L365.6 381 L366.8 382.6 L368 384.3 L369.2 385.9 L370.3 387.6 L371.4 389.3 L372.5 391 L373.5 392.7 L374.5 394.5 L375.4 396.2 L376.3 398 L377.3 399.8 L378.2 401.6 L379.1 403.4 L380 405.2 L380.9 407 L381.9 408.8 L382.8 410.6 L383.7 412.4 L384.6 414.2 L385.5 416 L386.4 417.8 L387.3 419.6 L388.2 421.4 L389.1 423.2 L390 425 L390.9 426.8 L391.8 428.6 L392.7 430.4 L393.5 432.2 L394.4 434 L395.3 435.8 L396.1 437.6 L397 439.5 L397.8 441.3 L398.7 443.1 L399.5 444.9 L400.4 446.8 L401.2 448.6 L402 450.5 L402.8 452.3 L403.6 454.2 L404.4 456 L405.2 457.9 L405.9 459.7 L406.7 461.6 L407.4 463.5 L408.1 465.4 L408.8 467.2 L409.5 469.1 L410.2 471 L410.9 472.9 L411.5 474.8 L412.1 476.8 L412.7 478.7 L413.3 480.6 L413.8 482.5 L414.4 484.5" stroke="#004cff" stroke-width="2.05" stroke-dasharray="9.2 8.74"/>
<path d="M90.8 247.7 L92.8 247.8 L94.8 247.8 L96.8 247.8 L98.9 247.9 L100.9 247.9 L102.9 247.9 L104.9 247.9 L106.9 247.9 L108.9 247.9 L110.9 247.9 L113 247.9 L115 247.9 L117 247.9 L119 247.9 L121 247.9 L123 247.8 L125 247.8 L127.1 247.8 L129.1 247.8 L131.1 247.8 L133.1 247.8 L135.1 247.7 L137.1 247.7 L139.2 247.7 L141.2 247.7 L143.2 247.7 L145.2 247.7 L147.2 247.7 L149.2 247.7 L151.2 247.7 L153.3 247.7 L155.3 247.7 L157.3 247.7 L159.3 247.7 L161.3 247.7 L163.3 247.7 L165.3 247.8 L167.4 247.8 L169.4 247.8 L171.4 247.9 L173.4 247.9 L175.4 248 L177.4 248.1 L179.4 248.1 L181.4 248.2 L183.5 248.4 L185.5 248.5 L187.5 248.7 L189.5 248.9 L191.5 249.1 L193.5 249.3 L195.4 249.6 L197.4 249.8 L199.4 250.2 L201.4 250.5 L203.4 250.9 L205.4 251.3 L207.3 251.7 L209.3 252.2 L211.2 252.7 L213.2 253.2 L215.1 253.8 L217.1 254.3 L219 254.9 L220.9 255.6 L222.8 256.2 L224.8 256.9 L226.7 257.6 L228.5 258.3 L230.4 259.1 L232.3 259.8 L234.2 260.6 L236 261.4 L237.8 262.2 L239.7 263.1 L241.5 264 L243.3 264.8 L245.1 265.7 L246.9 266.7 L248.6 267.6 L250.4 268.6 L252.1 269.6 L253.9 270.6 L255.6 271.6 L257.3 272.7 L259 273.8 L260.7 274.9 L262.3 276 L264 277.1 L265.6 278.3 L267.2 279.5 L268.8 280.7 L270.4 282 L272 283.2 L273.5 284.5 L275.1 285.7 L276.6 287 L278.2 288.3 L279.7 289.7 L281.3 291 L282.8 292.3 L284.3 293.6 L285.9 294.9 L287.4 296.2 L288.9 297.5 L290.5 298.8 L292 300.1 L293.6 301.4 L295.2 302.6 L296.8 303.9 L298.4 305.1 L300 306.3 L301.6 307.5 L303.2 308.7 L304.9 309.9 L306.5 311.1 L308.1 312.3 L309.7 313.5 L311.3 314.7 L313 315.9 L314.5 317.1 L316.1 318.4 L317.7 319.6 L319.2 320.9 L320.8 322.2 L322.3 323.5 L323.7 324.9 L325.2 326.3 L326.7 327.7 L328.1 329.1 L329.6 330.5 L331 331.9 L332.4 333.4 L333.8 334.8 L335.2 336.2 L336.7 337.7 L338.1 339.1 L339.5 340.5 L341 341.9 L342.4 343.3 L343.8 344.7 L345.3 346.1 L346.7 347.5 L348.2 348.9 L349.6 350.3 L351.1 351.7 L352.5 353.2 L353.9 354.6 L355.4 356 L356.8 357.5 L358.2 358.9 L359.6 360.4 L360.9 361.9 L362.3 363.3 L363.6 364.9 L364.9 366.4 L366.2 367.9 L367.4 369.5 L368.7 371.1 L369.9 372.7 L371 374.3 L372.2 376 L373.3 377.7 L374.4 379.4 L375.5 381.1 L376.5 382.8 L377.6 384.5 L378.6 386.3 L379.6 388 L380.6 389.8 L381.5 391.5 L382.5 393.3 L383.5 395.1 L384.4 396.9 L385.3 398.7 L386.2 400.4 L387.1 402.2 L388 404 L388.9 405.8 L389.8 407.7 L390.7 409.5 L391.6 411.3 L392.5 413.1 L393.3 414.9 L394.2 416.7 L395.1 418.5 L396 420.3 L396.9 422.1 L397.8 424 L398.6 425.8 L399.5 427.6 L400.4 429.4 L401.3 431.2 L402.2 433 L403 434.8 L403.9 436.7 L404.7 438.5 L405.5 440.3 L406.4 442.2 L407.2 444 L407.9 445.9 L408.7 447.7 L409.5 449.6 L410.2 451.5 L410.9 453.3 L411.6 455.2 L412.2 457.1 L412.8 459.1 L413.4 461 L414 462.9 L414.6 464.9 L415.1 466.8 L415.6 468.7 L416.1 470.7 L416.6 472.7 L417 474.6 L417.5 476.6 L417.9 478.6 L418.3 480.5 L418.7 482.5 L419 484.5" stroke="#ff0000" stroke-width="2.05" stroke-dasharray="2.1 4.163"/>
</g>
<g clip-path="url(#cp_smc)" fill="none" stroke-linejoin="round">
<path d="M463.1 255.8 L465.1 256.4 L467 257.1 L468.8 257.8 L470.7 258.6 L472.5 259.5 L474.3 260.5 L476 261.5 L477.7 262.5 L479.4 263.6 L481.1 264.7 L482.8 265.8 L484.4 267 L486.1 268.2 L487.7 269.3 L489.4 270.5 L491 271.7 L492.7 272.8 L494.3 274 L496 275.1 L497.7 276.2 L499.3 277.4 L501 278.4 L502.7 279.5 L504.5 280.6 L506.2 281.6 L507.9 282.6 L509.7 283.5 L511.5 284.5 L513.3 285.4 L515 286.3 L516.8 287.2 L518.7 288.1 L520.5 289 L522.3 289.9 L524.1 290.7 L526 291.6 L527.8 292.4 L529.6 293.2 L531.5 294.1 L533.3 294.9 L535.1 295.7 L537 296.6 L538.8 297.4 L540.6 298.2 L542.5 299.1 L544.3 300 L546.1 300.8 L547.9 301.7 L549.7 302.6 L551.5 303.5 L553.3 304.4 L555.1 305.3 L556.9 306.2 L558.7 307.2 L560.5 308.1 L562.3 309.1 L564 310 L565.8 311 L567.6 311.9 L569.3 312.9 L571.1 313.9 L572.9 314.9 L574.6 315.9 L576.3 316.9 L578.1 317.9 L579.8 318.9 L581.6 320 L583.3 321 L585 322 L586.7 323.1 L588.5 324.1 L590.2 325.2 L591.9 326.2 L593.6 327.3 L595.3 328.4 L597 329.4 L598.7 330.5 L600.4 331.6 L602.1 332.7 L603.8 333.8 L605.5 334.9 L607.2 336 L608.9 337.1 L610.6 338.2 L612.3 339.3 L614 340.4 L615.7 341.4 L617.4 342.5 L619.1 343.6 L620.8 344.6 L622.6 345.6 L624.3 346.6 L626 347.7 L627.7 348.8 L629.2 350 L630.6 351.4 L632 352.9 L633.3 354.4 L634.6 356 L635.9 357.5 L637.3 359 L638.7 360.4 L640.2 361.9 L641.5 363.4 L642.9 364.9 L644.1 366.5 L645.4 368 L646.6 369.6 L647.7 371.3 L648.8 372.9 L649.9 374.6 L651 376.3 L652 378 L653 379.8 L654 381.5 L655 383.3 L655.9 385.1 L656.8 386.9 L657.8 388.7 L658.7 390.5 L659.6 392.3 L660.4 394.1 L661.3 395.9 L662.2 397.7 L663.1 399.5 L664 401.4 L664.9 403.2 L665.8 405 L666.6 406.8 L667.5 408.6 L668.4 410.4 L669.2 412.3 L670.1 414.1 L671 415.9 L671.8 417.7 L672.6 419.6 L673.5 421.4 L674.3 423.2 L675.1 425.1 L675.9 426.9 L676.7 428.8 L677.5 430.6 L678.2 432.5 L679 434.3 L679.7 436.2 L680.5 438.1 L681.2 440 L681.9 441.8 L682.5 443.7 L683.2 445.6 L683.9 447.5 L684.5 449.5 L685.1 451.4 L685.7 453.3 L686.3 455.3 L686.8 457.2 L687.4 459.1 L687.9 461.1 L688.5 463 L689 465 L689.5 466.9 L690 468.9 L690.5 470.9 L691 472.8 L691.5 474.8 L692 476.7 L692.5 478.7 L693 480.6 L693.5 482.5 L694 484.5" stroke="#000" stroke-width="2.05"/>
<path d="M463.1 251.3 L465.1 251.7 L467 252.1 L469 252.5 L471 252.9 L473 253.3 L474.9 253.7 L476.9 254.1 L478.9 254.5 L480.9 254.9 L482.8 255.3 L484.8 255.7 L486.8 256.1 L488.8 256.4 L490.8 256.8 L492.8 257.2 L494.7 257.5 L496.7 257.9 L498.7 258.2 L500.7 258.5 L502.7 258.8 L504.7 259.1 L506.7 259.4 L508.7 259.6 L510.7 259.8 L512.7 260.1 L514.7 260.3 L516.7 260.5 L518.7 260.6 L520.7 260.8 L522.7 260.9 L524.7 261.1 L526.7 261.2 L528.8 261.3 L530.8 261.3 L532.8 261.4 L534.8 261.5 L536.9 261.6 L538.9 261.7 L540.9 261.9 L542.8 262.3 L544.8 262.7 L546.7 263.2 L548.6 263.9 L550.5 264.6 L552.4 265.3 L554.2 266.2 L556 267 L557.8 268 L559.6 268.9 L561.4 269.9 L563.1 270.9 L564.9 271.9 L566.6 273 L568.3 274 L570.1 275 L571.8 276.1 L573.5 277.1 L575.3 278.1 L577 279.1 L578.8 280.1 L580.5 281.1 L582.3 282 L584.1 282.9 L585.9 283.9 L587.7 284.8 L589.5 285.8 L591.2 286.7 L593 287.7 L594.7 288.8 L596.4 289.9 L598.1 290.9 L599.8 292.1 L601.5 293.2 L603.1 294.3 L604.8 295.4 L606.5 296.6 L608.1 297.7 L609.8 298.8 L611.5 299.9 L613.2 301 L615 302 L616.7 303.1 L618.4 304.1 L620.2 305.1 L621.9 306.1 L623.6 307.1 L625.3 308.2 L626.9 309.4 L628.5 310.6 L630 311.9 L631.4 313.3 L632.8 314.8 L634.2 316.2 L635.6 317.7 L637 319.2 L638.3 320.7 L639.6 322.3 L640.9 323.9 L642.1 325.5 L643.3 327.1 L644.4 328.8 L645.5 330.4 L646.6 332.1 L647.6 333.8 L648.7 335.5 L649.7 337.3 L650.8 339 L651.8 340.7 L652.8 342.5 L653.8 344.2 L654.8 346 L655.7 347.7 L656.7 349.5 L657.7 351.3 L658.6 353.1 L659.5 354.8 L660.5 356.6 L661.4 358.4 L662.3 360.2 L663.2 362 L664.1 363.8 L665 365.6 L665.9 367.4 L666.8 369.3 L667.7 371.1 L668.6 372.9 L669.4 374.7 L670.3 376.5 L671.2 378.4 L672 380.2 L672.9 382 L673.7 383.8 L674.5 385.7 L675.3 387.5 L676.2 389.4 L676.9 391.2 L677.7 393.1 L678.5 394.9 L679.2 396.8 L679.9 398.7 L680.7 400.6 L681.3 402.4 L682 404.3 L682.7 406.2 L683.3 408.2 L683.9 410.1 L684.4 412 L685 413.9 L685.5 415.9 L686 417.8 L686.5 419.8 L687 421.8 L687.5 423.7 L688 425.7 L688.5 427.7 L689 429.6 L689.5 431.6 L690 433.5 L690.5 435.5 L691 437.4 L691.6 439.4 L692.2 441.3 L692.8 443.2 L693.3 445.1 L693.9 447.1 L694.5 449 L695 450.9 L695.5 452.9 L696 454.8 L696.5 456.8 L696.9 458.7 L697.4 460.7 L697.8 462.7 L698.2 464.7 L698.6 466.7 L698.9 468.6 L699.3 470.6 L699.6 472.6 L700 474.6 L700.4 476.6 L700.7 478.6 L701.1 480.5 L701.5 482.5 L701.9 484.5" stroke="#004cff" stroke-width="2.05" stroke-dasharray="9.2 8.74"/>
<path d="M463.1 249.9 L465.1 250.2 L467.1 250.4 L469.1 250.6 L471.1 250.9 L473.1 251.1 L475.1 251.4 L477.1 251.6 L479.1 251.8 L481.1 252 L483.1 252.3 L485.1 252.5 L487.1 252.7 L489.1 252.9 L491.1 253.1 L493.1 253.3 L495.1 253.5 L497.1 253.7 L499.1 253.9 L501.1 254 L503.2 254.2 L505.2 254.4 L507.2 254.5 L509.2 254.7 L511.2 254.9 L513.2 255 L515.2 255.1 L517.2 255.3 L519.2 255.4 L521.2 255.5 L523.2 255.6 L525.3 255.7 L527.3 255.8 L529.3 255.9 L531.3 256 L533.3 256.1 L535.3 256.2 L537.3 256.4 L539.3 256.5 L541.3 256.7 L543.3 256.8 L545.3 257 L547.3 257.2 L549.3 257.5 L551.3 257.7 L553.3 258 L555.3 258.4 L557.3 258.7 L559.2 259.2 L561.2 259.6 L563.1 260.1 L565.1 260.6 L567.1 261.1 L569 261.6 L571 262.1 L572.9 262.6 L574.9 263.1 L576.8 263.6 L578.8 264.1 L580.8 264.5 L582.7 264.9 L584.7 265.3 L586.7 265.6 L588.7 266 L590.7 266.3 L592.7 266.7 L594.6 267.1 L596.6 267.5 L598.6 268 L600.5 268.5 L602.5 269.1 L604.4 269.7 L606.3 270.3 L608.2 271 L610.1 271.7 L611.9 272.5 L613.8 273.3 L615.6 274.2 L617.4 275.1 L619.1 276.1 L620.9 277.1 L622.6 278.1 L624.2 279.2 L625.9 280.4 L627.5 281.6 L629 282.9 L630.6 284.2 L632.1 285.6 L633.5 287 L635 288.4 L636.4 289.9 L637.7 291.4 L639.1 292.9 L640.4 294.4 L641.7 296 L642.9 297.6 L644.1 299.2 L645.2 300.8 L646.3 302.5 L647.4 304.2 L648.5 305.9 L649.5 307.6 L650.5 309.4 L651.5 311.1 L652.5 312.9 L653.5 314.6 L654.4 316.4 L655.4 318.2 L656.4 319.9 L657.3 321.7 L658.3 323.5 L659.2 325.3 L660.1 327 L661.1 328.8 L662 330.6 L662.9 332.4 L663.8 334.2 L664.7 336 L665.6 337.9 L666.4 339.7 L667.3 341.5 L668.2 343.3 L669 345.1 L669.8 347 L670.7 348.8 L671.5 350.6 L672.3 352.5 L673.1 354.3 L673.9 356.2 L674.7 358 L675.5 359.9 L676.3 361.7 L677 363.6 L677.8 365.5 L678.5 367.4 L679.2 369.2 L679.9 371.1 L680.6 373 L681.3 374.9 L682 376.8 L682.6 378.7 L683.3 380.6 L683.9 382.5 L684.5 384.4 L685.1 386.4 L685.7 388.3 L686.3 390.2 L686.9 392.1 L687.5 394.1 L688.1 396 L688.7 397.9 L689.3 399.8 L689.9 401.8 L690.4 403.7 L691 405.6 L691.6 407.5 L692.2 409.5 L692.8 411.4 L693.3 413.3 L693.8 415.3 L694.4 417.2 L694.9 419.2 L695.3 421.1 L695.8 423.1 L696.3 425 L696.7 427 L697.1 429 L697.5 430.9 L697.9 432.9 L698.3 434.9 L698.7 436.9 L699.1 438.8 L699.4 440.8 L699.8 442.8 L700.1 444.8 L700.5 446.8 L700.8 448.8 L701.1 450.8 L701.5 452.8 L701.8 454.7 L702.1 456.7 L702.4 458.7 L702.8 460.7 L703.1 462.7 L703.4 464.7 L703.8 466.7 L704.1 468.7 L704.4 470.6 L704.8 472.6 L705.1 474.6 L705.5 476.6 L705.9 478.6 L706.2 480.5 L706.6 482.5 L707 484.5" stroke="#ff0000" stroke-width="2.05" stroke-dasharray="2.1 4.163"/>
</g>
<path d="M101.8 189.85 H173" stroke="#000" stroke-width="3.8" fill="none"/>
<path d="M101.7 208.85 H173" stroke="#004cff" stroke-width="3.8" stroke-dasharray="9.2 8.6" fill="none"/>
<path d="M101.8 227.65 H173.5" stroke="#ff0000" stroke-width="3.8" stroke-dasharray="2.1 4.15" fill="none"/>
<g font-family="'Liberation Sans', sans-serif" fill="#000">
<text x="185.30" y="194.80" font-size="22.7" text-anchor="start" id="lg1">r &lt; 50 kpc</text>
<text x="185.30" y="214.30" font-size="22.7" text-anchor="start" fill="#004cff" id="lg2">r &lt; 20 kpc</text>
<text x="185.30" y="233.40" font-size="22.7" text-anchor="start" fill="#ff0000" id="lg3">r &lt; 10 kpc</text>
<text transform="translate(387.50 28.85) scale(1 1.04)" font-size="23.1" text-anchor="start" id="pl_hiz">HiZ</text>
<text transform="translate(759.60 28.85) scale(1 1.04)" font-size="23.1" text-anchor="start" id="pl_sbc">Sbc</text>
<text transform="translate(387.50 273.80) scale(1 1.04)" font-size="23.1" text-anchor="start" id="pl_mw">MW</text>
<text transform="translate(759.60 273.80) scale(1 1.04)" font-size="23.1" text-anchor="start" id="pl_smc">SMC</text>
<text transform="translate(85.40 15.15) scale(1 1.075)" font-size="20.7" text-anchor="end" id="y0_hiz">1.0</text>
<text transform="translate(84.00 68.89) scale(1 1.075)" font-size="20.7" text-anchor="end" id="y1_hiz">0.1</text>
<text transform="translate(84.00 128.12) scale(1 1.075)" font-size="20.7" text-anchor="end" id="y2_hiz">0.01</text>
<text transform="translate(84.00 187.36) scale(1 1.075)" font-size="20.7" text-anchor="end" id="y3_hiz">0.001</text>
<text transform="translate(17.1 121.1) rotate(-90) scale(1 1.06)" font-size="20.7" text-anchor="middle" id="yt_hiz">Fraction</text>
<text transform="translate(85.40 260.10) scale(1 1.075)" font-size="20.7" text-anchor="end" id="y0_mw">1.0</text>
<text transform="translate(84.00 313.82) scale(1 1.075)" font-size="20.7" text-anchor="end" id="y1_mw">0.1</text>
<text transform="translate(84.00 373.05) scale(1 1.075)" font-size="20.7" text-anchor="end" id="y2_mw">0.01</text>
<text transform="translate(84.00 432.27) scale(1 1.075)" font-size="20.7" text-anchor="end" id="y3_mw">0.001</text>
<text transform="translate(17.1 366.1) rotate(-90) scale(1 1.06)" font-size="20.7" text-anchor="middle" id="yt_mw">Fraction</text>
<text transform="translate(137.72 510.55) scale(1 1.075)" font-size="20.9" text-anchor="middle" id="x18_mw">18</text>
<text transform="translate(190.29 510.55) scale(1 1.075)" font-size="20.9" text-anchor="middle" id="x19_mw">19</text>
<text transform="translate(242.86 510.55) scale(1 1.075)" font-size="20.9" text-anchor="middle" id="x20_mw">20</text>
<text transform="translate(295.44 510.55) scale(1 1.075)" font-size="20.9" text-anchor="middle" id="x21_mw">21</text>
<text transform="translate(348.01 510.55) scale(1 1.075)" font-size="20.9" text-anchor="middle" id="x22_mw">22</text>
<text transform="translate(400.58 510.55) scale(1 1.075)" font-size="20.9" text-anchor="middle" id="x23_mw">23</text>
<text x="199.20" y="532.80" font-size="20.8" text-anchor="start" id="t1_mw">log(</text>
<text x="240.10" y="532.80" font-size="20.8" text-anchor="start" id="t2_mw">N</text>
<text x="255.00" y="537.50" font-size="12" text-anchor="start" id="t3_mw">H</text>
<text x="271.20" y="532.80" font-size="20.8" text-anchor="start" id="t4_mw">)</text>
<text x="289.20" y="532.80" font-size="20.8" text-anchor="start" id="t5_mw" letter-spacing="0.45">[cm</text>
<text x="324.20" y="523.50" font-size="12" text-anchor="start" id="t6_mw">-2</text>
<text x="334.40" y="532.80" font-size="20.8" text-anchor="start" id="t7_mw">]</text>
<text transform="translate(510.50 510.55) scale(1 1.075)" font-size="20.9" text-anchor="middle" id="x18_smc">18</text>
<text transform="translate(563.00 510.55) scale(1 1.075)" font-size="20.9" text-anchor="middle" id="x19_smc">19</text>
<text transform="translate(615.50 510.55) scale(1 1.075)" font-size="20.9" text-anchor="middle" id="x20_smc">20</text>
<text transform="translate(668.00 510.55) scale(1 1.075)" font-size="20.9" text-anchor="middle" id="x21_smc">21</text>
<text transform="translate(720.50 510.55) scale(1 1.075)" font-size="20.9" text-anchor="middle" id="x22_smc">22</text>
<text transform="translate(773.00 510.55) scale(1 1.075)" font-size="20.9" text-anchor="middle" id="x23_smc">23</text>
<text x="571.60" y="532.80" font-size="20.8" text-anchor="start" id="t1_smc">log(</text>
<text x="612.50" y="532.80" font-size="20.8" text-anchor="start" id="t2_smc">N</text>
<text x="627.40" y="537.50" font-size="12" text-anchor="start" id="t3_smc">H</text>
<text x="643.60" y="532.80" font-size="20.8" text-anchor="start" id="t4_smc">)</text>
<text x="661.60" y="532.80" font-size="20.8" text-anchor="start" id="t5_smc" letter-spacing="0.45">[cm</text>
<text x="696.60" y="523.50" font-size="12" text-anchor="start" id="t6_smc">-2</text>
<text x="706.80" y="532.80" font-size="20.8" text-anchor="start" id="t7_smc">]</text>
</g>
</svg>
</body></html>
